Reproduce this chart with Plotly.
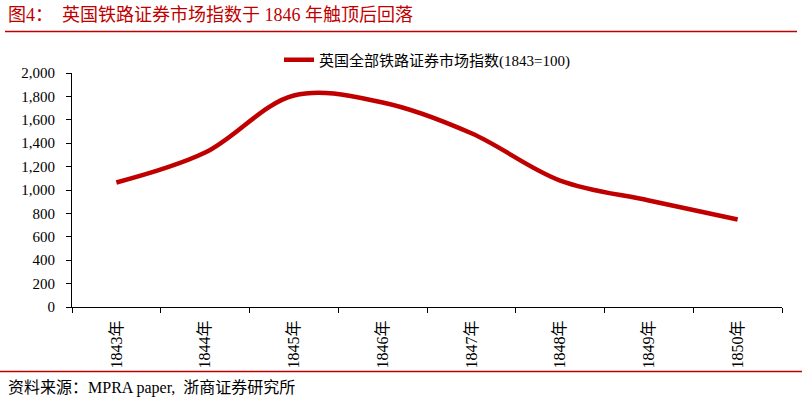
import plotly.graph_objects as go

years = ["1843年", "1844年", "1845年", "1846年", "1847年", "1848年", "1849年", "1850年"]
index_values = [1064, 1320, 1808, 1748, 1485, 1081, 910, 748]
series_name = "英国全部铁路证券市场指数(1843=100)"
y_ticks = [0, 200, 400, 600, 800, 1000, 1200, 1400, 1600, 1800, 2000]

W, H = 802, 404
L, R, T, B = 72, 20, 73, 97
RED = "#C00000"
FONT = "Liberation Serif, Times New Roman, Noto Sans CJK SC, serif"

def px_x(x):
    return (x - L) / (W - L - R)

def px_y(y):
    return (H - B - y) / (H - T - B)

fig = go.Figure()
fig.add_trace(go.Scatter(
    x=years, y=index_values, mode="lines", name=series_name,
    line=dict(color=RED, width=4.5, shape="spline", smoothing=1.0),
))

fig.update_layout(
    width=W, height=H,
    margin=dict(l=L, r=R, t=T, b=B),
    paper_bgcolor="white", plot_bgcolor="white",
    font=dict(family=FONT, size=14, color="black"),
    showlegend=True,
    legend=dict(orientation="h", x=0.5, xanchor="center", y=px_y(60), yanchor="middle",
                font=dict(size=15, color="black"), bgcolor="rgba(0,0,0,0)"),
    xaxis=dict(
        type="category", range=[-0.5, len(years) - 0.5],
        showline=True, linecolor="black", linewidth=1,
        ticks="outside", ticklen=5, tickcolor="black", tickson="boundaries",
        tickangle=-90, showgrid=False, zeroline=False, ticklabelstandoff=6,
        tickfont=dict(size=16, family=FONT),
    ),
    yaxis=dict(
        range=[0, 2000], tickvals=y_ticks, tickformat=",d",
        showline=True, linecolor="black", linewidth=1,
        ticks="outside", ticklen=5, tickcolor="black",
        showgrid=False, zeroline=False, ticklabelstandoff=8,
        tickfont=dict(size=15, family=FONT),
    ),
    shapes=[
        dict(type="line", xref="paper", yref="paper", x0=px_x(5), x1=px_x(797),
             y0=px_y(31.5), y1=px_y(31.5), line=dict(color=RED, width=1.3)),
        dict(type="line", xref="paper", yref="paper", x0=px_x(0), x1=px_x(802),
             y0=px_y(371.5), y1=px_y(371.5), line=dict(color=RED, width=1.3)),
    ],
    annotations=[
        dict(text="图4：  英国铁路证券市场指数于 1846 年触顶后回落", xref="paper", yref="paper",
             x=px_x(6), y=px_y(15), xanchor="left", yanchor="middle", showarrow=False,
             font=dict(size=18, color=RED, family=FONT)),
        dict(text="资料来源：MPRA paper,  浙商证券研究所", xref="paper", yref="paper",
             x=px_x(6), y=px_y(388), xanchor="left", yanchor="middle", showarrow=False,
             font=dict(size=16, color="black", family=FONT)),
    ],
)

fig.write_html("out.html")
